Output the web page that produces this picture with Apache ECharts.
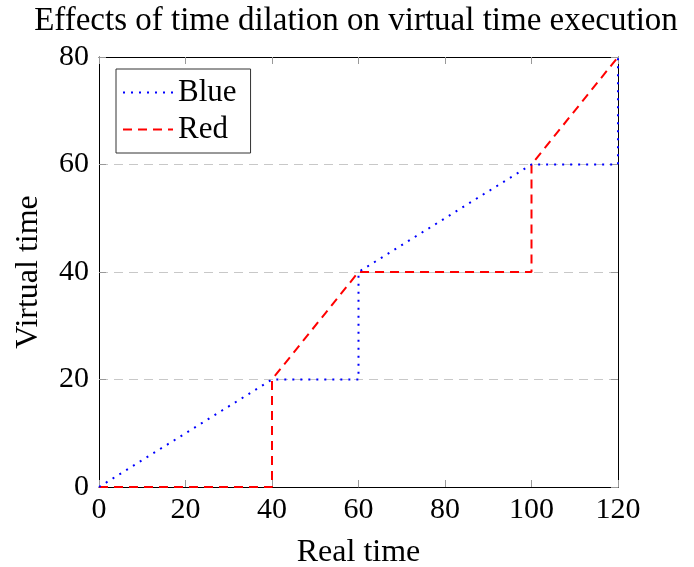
<!DOCTYPE html>
<html>
<head>
<meta charset="utf-8">
<script src="https://cdn.jsdelivr.net/npm/echarts@6/dist/echarts.min.js"></script>
<style>
  html, body { margin: 0; padding: 0; background: #fff; }
  #chart { width: 694px; height: 567px; }
</style>
</head>
<body>
<div id="chart"></div>
<script>
'use strict';

// data
const blueX = [0, 40, 60, 60, 100, 120, 120];
const blueY = [0, 20, 20, 40, 60, 60, 80];
const redX = [0, 40, 40, 60, 100, 100, 120];
const redY = [0, 0, 20, 40, 40, 60, 80];
const xTicks = [0, 20, 40, 60, 80, 100, 120];
const yTicks = [0, 20, 40, 60, 80];

const font = 'Liberation Serif';

function pairs(xs, ys) {
    return xs.map((x, i) => [x, ys[i]]);
}

const chart = echarts.init(document.getElementById('chart'));

const tickIn = { show: true, inside: true, length: 7, lineStyle: { color: '#999', width: 1 } };

chart.setOption({
    animation: false,
    title: {
        text: 'Effects of time dilation on virtual time execution',
        left: 351, top: 0, textAlign: 'center',
        textStyle: { fontFamily: font, fontSize: 33, fontWeight: 'normal', color: '#000' }
    },
    legend: {
        left: 116, top: 69, orient: 'vertical',
        padding: [8, 14, 8, 6], itemGap: 6,
        borderColor: '#333', borderWidth: 1,
        itemWidth: 50, itemHeight: 32,
        itemStyle: { opacity: 0 },
        textStyle: { fontFamily: font, fontSize: 31, color: '#000' },
        data: ['Blue', 'Red']
    },
    grid: { left: 99, right: 76, top: 57, bottom: 80, outerBoundsMode: 'none' },
    xAxis: [{
        type: 'value', min: 0, max: 120, interval: 20,
        name: 'Real time', nameLocation: 'middle', nameGap: 50,
        nameTextStyle: { fontFamily: font, fontSize: 32, color: '#000' },
        axisLine: { show: true, onZero: false, lineStyle: { color: '#000', width: 1 } },
        axisTick: tickIn,
        axisLabel: { fontFamily: font, fontSize: 30, color: '#000', margin: 8 },
        splitLine: { show: false }
    }, {
        type: 'value', min: 0, max: 120, interval: 20, position: 'top',
        axisLine: { show: true, onZero: false, lineStyle: { color: '#000', width: 1 } },
        axisTick: tickIn, axisLabel: { show: false }, splitLine: { show: false }
    }],
    yAxis: [{
        type: 'value', min: 0, max: 80, interval: 20,
        name: 'Virtual time', nameLocation: 'middle', nameGap: 54,
        nameTextStyle: { fontFamily: font, fontSize: 32, color: '#000' },
        axisLine: { show: true, onZero: false, lineStyle: { color: '#000', width: 1 } },
        axisTick: tickIn,
        axisLabel: { fontFamily: font, fontSize: 30, color: '#000', margin: 10 },
        splitLine: { show: true, lineStyle: { color: '#c8c8c8', type: [9, 6], width: 1 } }
    }, {
        type: 'value', min: 0, max: 80, interval: 20, position: 'right',
        axisLine: { show: true, onZero: false, lineStyle: { color: '#000', width: 1 } },
        axisTick: tickIn, axisLabel: { show: false }, splitLine: { show: false }
    }],
    series: [{
        name: 'Blue', type: 'line', symbol: 'none',
        data: pairs(blueX, blueY),
        lineStyle: { color: '#0000ff', width: 2, type: [2, 6] },
        itemStyle: { color: '#0000ff' },
        z: 3
    }, {
        name: 'Red', type: 'line', symbol: 'none',
        data: pairs(redX, redY),
        lineStyle: { color: '#ff0000', width: 2, type: [9, 6] },
        itemStyle: { color: '#ff0000' },
        z: 2
    }]
});
</script>
</body>
</html>
